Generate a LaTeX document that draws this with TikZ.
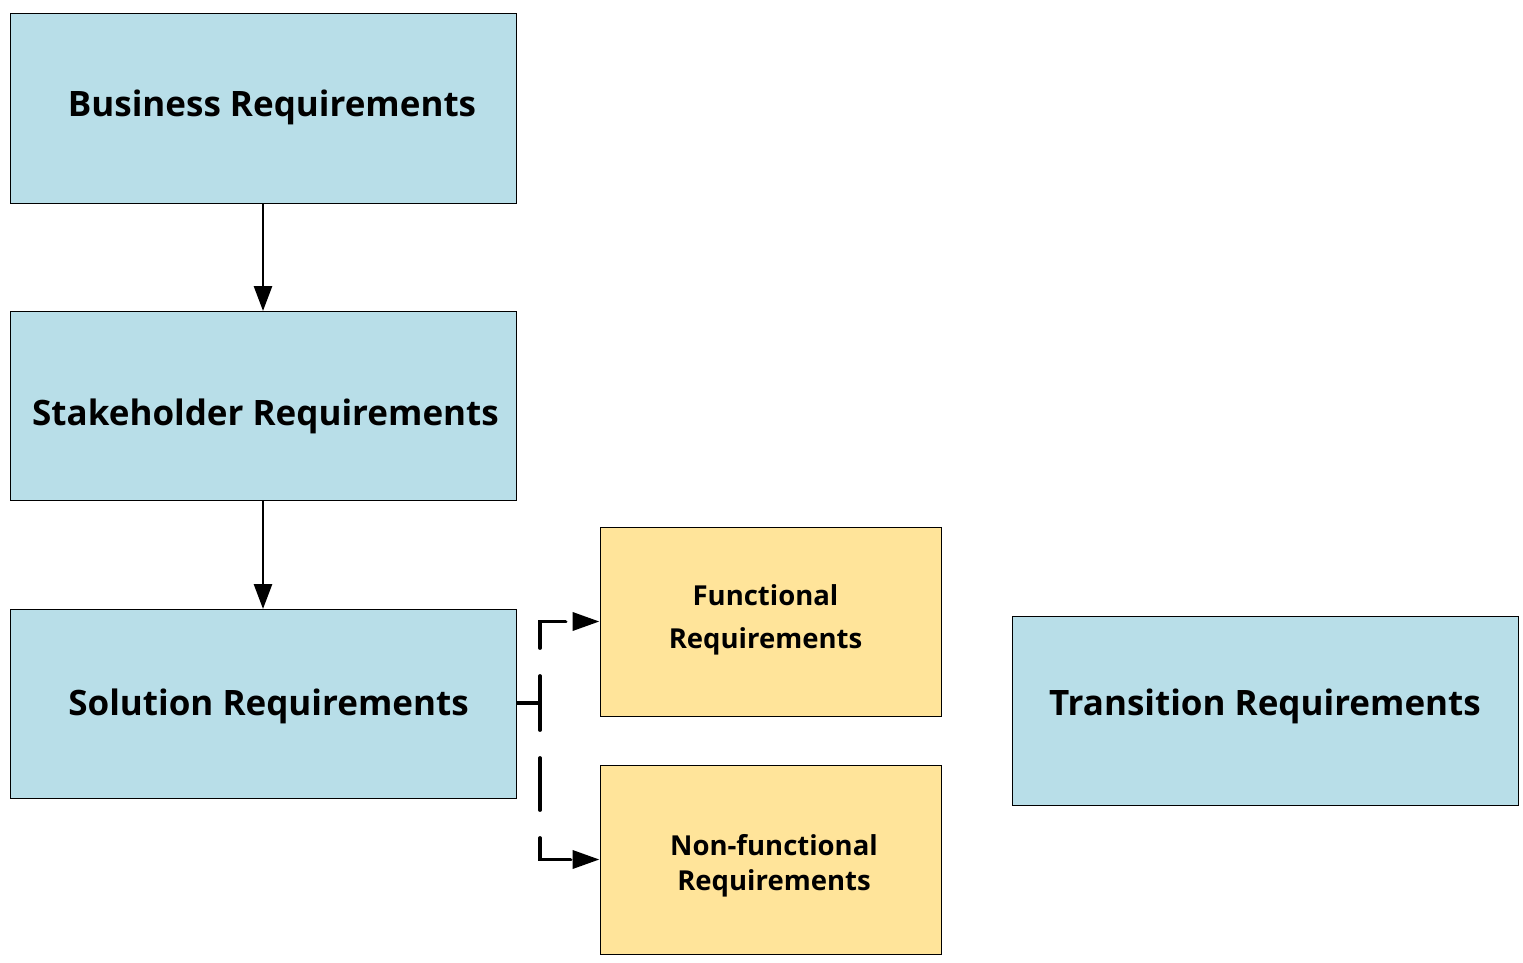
\documentclass[tikz,border=0pt]{standalone}
\usepackage{fontspec}
\setmainfont{Open Sans}
\usetikzlibrary{arrows.meta}
\definecolor{bluebox}{HTML}{B8DEE8}
\definecolor{yellowbox}{HTML}{FFE49A}
\tikzset{
  bigbox/.style={draw=black, line width=1pt, fill=bluebox, minimum width=506pt, minimum height=189pt, inner sep=0pt},
  smallbox/.style={draw=black, line width=1pt, fill=yellowbox, minimum width=341pt, minimum height=189pt, inner sep=0pt},
  bigtext/.style={inner sep=0pt, font=\fontsize{35}{40}\selectfont\bfseries},
  smalltext/.style={inner sep=0pt, align=center, font=\fontsize{27.5}{35}\selectfont\bfseries},
  solidarrow/.style={line width=2.8pt, -{Triangle[length=25pt,width=18pt]}},
  dasharrow/.style={line width=3.8pt, line cap=round, dash pattern=on 52pt off 28pt, dash phase=25pt, -{Triangle[length=27pt,width=18pt,line cap=butt]}},
}
\begin{document}
\begin{tikzpicture}[x=1pt,y=-1pt]
\useasboundingbox (0,0) rectangle (1523,963);
\node[bigbox, label={[bigtext, xshift=9pt, yshift=1pt]center:Business Requirements}] (bus) at (263,108.5) {};
\node[bigbox, label={[bigtext, xshift=2.5pt, yshift=-10pt]center:Stakeholder Requirements}] (stk) at (263,406) {};
\node[bigbox, label={[bigtext, xshift=5.5pt, yshift=-2pt]center:Solution Requirements}] (sol) at (263,704) {};
\node[smallbox, label={[smalltext, xshift=-5pt, yshift=2pt]center:Functional\\[8pt]Requirements}] (fun) at (770.5,621.5) {};
\node[smallbox, label={[smalltext, xshift=3.5pt, yshift=-6pt]center:Non-functional\\Requirements}] (nfr) at (770.5,859.5) {};
\node[bigbox, label={[bigtext, yshift=4pt]center:Transition Requirements}] (tra) at (1265,710.5) {};
\coordinate (j) at (540,703);
\draw[solidarrow] (bus.south) -- (stk.north);
\draw[solidarrow] (stk.south) -- (sol.north);
\draw[line width=3.8pt] (sol.east |- j) -- (j);
\draw[dasharrow] (j) |- (fun.west);
\draw[dasharrow] (j) |- (nfr.west);
\end{tikzpicture}
\end{document}
